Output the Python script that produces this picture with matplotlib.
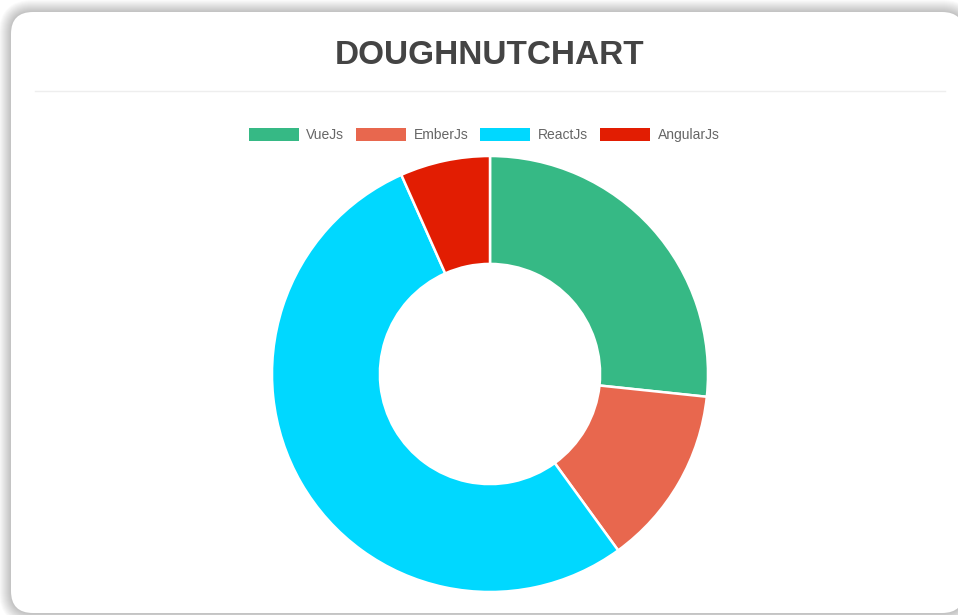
import matplotlib

matplotlib.use("Agg")

import matplotlib.pyplot as plt
from matplotlib.patches import FancyBboxPatch, Patch

labels = ["VueJs", "EmberJs", "ReactJs", "AngularJs"]
values = [40, 20, 80, 10]
colors = ["#36B985", "#E8674E", "#00D8FF", "#E21D02"]
title = "DOUGHNUTCHART"

W, H = 958, 615
plt.rcParams["font.family"] = ["Liberation Sans", "DejaVu Sans"]

fig = plt.figure(figsize=(W / 100, H / 100), dpi=100)
fig.patch.set_facecolor("white")

# background layer in pixel coordinates (y down)
bg = fig.add_axes([0, 0, 1, 1], zorder=0)
bg.set_xlim(0, W)
bg.set_ylim(H, 0)
bg.axis("off")

x0, y0, x1, y1 = 11, 12, 964, 613
for i in range(12, 0, -1):
    shadow = FancyBboxPatch(
        (x0 - i, y0 - i), (x1 - x0) + 2 * i, (y1 - y0) + 2 * i,
        boxstyle=f"round,pad=0,rounding_size={22 + i}",
        facecolor="#000000", edgecolor="none", alpha=0.018,
    )
    bg.add_patch(shadow)
card = FancyBboxPatch(
    (x0, y0), x1 - x0, y1 - y0,
    boxstyle="round,pad=0,rounding_size=22",
    facecolor="white", edgecolor="none",
)
bg.add_patch(card)
bg.plot([35, 945], [91, 91], color="#eeeeee", linewidth=1)
bg.text(490, 55, title, ha="center", va="center", fontsize=24,
        fontweight="bold", color="#444444")

# doughnut
R = 218
cx, cy = 490, 374
ax = fig.add_axes([(cx - R) / W, 1 - (cy + R) / H, 2 * R / W, 2 * R / H], zorder=1)
wedges, _ = ax.pie(
    values, colors=colors, startangle=90, counterclock=False, radius=1,
    wedgeprops=dict(width=0.495, edgecolor="white", linewidth=1.8),
)
ax.set_xlim(-1.0, 1.0)
ax.set_ylim(-1.0, 1.0)
ax.set_aspect("equal")
ax.axis("off")

handles = [Patch(facecolor=c, edgecolor="none") for c in colors]
fig.legend(
    handles, labels, loc="center", bbox_to_anchor=(484 / W, 1 - 135 / H),
    ncol=4, frameon=False, fontsize=10, labelcolor="#666666",
    handlelength=3.6, handleheight=1.05, handletextpad=0.55, columnspacing=0.85,
)

fig.savefig("out.png", dpi=100)
